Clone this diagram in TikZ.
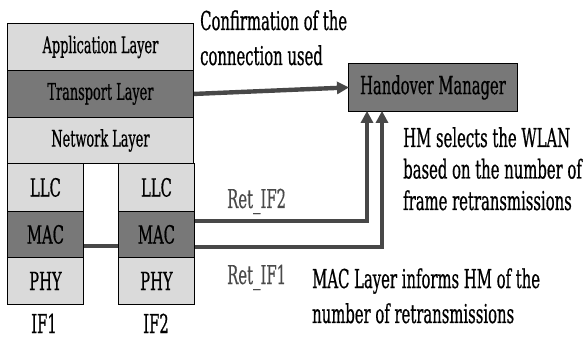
\documentclass[tikz,border=0pt]{standalone}
\usepackage{fontspec}
\newfontfamily\cfa[FakeStretch=0.57,FakeBold=0.6]{DejaVu Serif}
\newfontfamily\cfb[FakeStretch=0.56,FakeBold=0.6]{DejaVu Serif}
\newfontfamily\cfc[FakeStretch=0.59,FakeBold=0.6]{DejaVu Serif}
\newfontfamily\cfd[FakeStretch=0.57,FakeBold=0.3]{DejaVu Serif}
\usetikzlibrary{arrows.meta}
\definecolor{lightfill}{HTML}{DADADA}
\definecolor{darkfill}{HTML}{787878}
\definecolor{wire}{HTML}{484848}
\definecolor{labgray}{HTML}{4A4A4A}
\tikzset{
  layer/.style={draw=black, line width=0.9pt, fill=lightfill, inner sep=0pt, font=\cfb\fontsize{23}{26}\selectfont},
  dlayer/.style={layer, fill=darkfill},
  sublayer/.style={layer, font=\cfc\fontsize{25}{28}\selectfont},
  dsublayer/.style={sublayer, fill=darkfill},
  wireline/.style={draw=wire, line width=4.4pt},
  wirearrow/.style={wireline, -{Triangle[length=12pt,width=12pt]}, shorten >=-1pt},
  note/.style={anchor=base west, inner sep=0pt, font=\cfa\fontsize{26}{30}\selectfont},
  retlab/.style={note, text=labgray, font=\cfd\fontsize{26}{30}\selectfont},
  iflab/.style={anchor=base, inner sep=0pt, font=\cfa\fontsize{26}{30}\selectfont}
}
\begin{document}
\begin{tikzpicture}[x=1pt,y=-1pt]
\useasboundingbox (0,0) rectangle (584,339);
% protocol stack
\node[layer, minimum width=186pt, minimum height=47pt, anchor=north west] (app) at (7,23) {Application Layer};
\node[dlayer, minimum width=186pt, minimum height=47pt, anchor=north west] (tra) at (7,70) {Transport Layer};
\node[layer, minimum width=186pt, minimum height=46pt, anchor=north west] (net) at (7,117) {Network Layer};
% IF1
\node[sublayer, minimum width=76pt, minimum height=48pt, anchor=north west] (llc1) at (7,163) {LLC};
\node[dsublayer, minimum width=76pt, minimum height=46pt, anchor=north west] (mac1) at (7,211) {MAC};
\node[sublayer, minimum width=76pt, minimum height=47pt, anchor=north west] (phy1) at (7,257) {PHY};
% IF2
\node[sublayer, minimum width=76pt, minimum height=48pt, anchor=north west] (llc2) at (118,163) {LLC};
\node[dsublayer, minimum width=76pt, minimum height=46pt, anchor=north west] (mac2) at (118,211) {MAC};
\node[sublayer, minimum width=76pt, minimum height=47pt, anchor=north west] (phy2) at (118,257) {PHY};
\node[iflab] (if1) at (44,333) {IF1};
\node[iflab] (if2) at (156,333) {IF2};
% handover manager
\node[dsublayer, minimum width=169pt, minimum height=48pt, anchor=north west] (hm) at (348,63) {Handover Manager};
% connectors
\coordinate (c2) at (367,221);
\coordinate (c1) at (382,247);
\draw[wirearrow] (tra.east) -- (hm.west);
\draw[wireline] (mac1.east |- 0,246) -- (mac2.west |- 0,246);
\draw[wirearrow] (mac2.east |- c2) -- (c2) -- (c2 |- hm.south);
\draw[wirearrow] (mac2.east |- c1) -- (c1) -- (c1 |- hm.south);
% labels
\node[note] (conf1) at (200,30) {Confirmation of the};
\node[note] (conf2) at (200,65) {connection used};
\node[note] (sel1) at (403,147) {HM selects the WLAN};
\node[note] (sel2) at (403,178.5) {based on the number of};
\node[note] (sel3) at (403,210) {frame retransmissions};
\node[note] (inf1) at (312,288) {MAC Layer informs HM of the};
\node[note] (inf2) at (312,323) {number of retransmissions};
\node[retlab] (r2) at (227,208) {Ret\_IF2};
\node[retlab] (r1) at (227,284) {Ret\_IF1};
\end{tikzpicture}
\end{document}
